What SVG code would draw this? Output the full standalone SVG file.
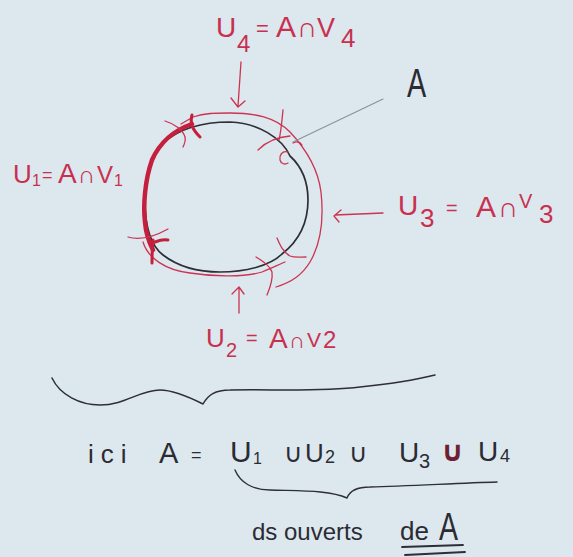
<svg xmlns="http://www.w3.org/2000/svg" width="573" height="557" viewBox="0 0 573 557">
<style>
.bg{fill:#dce7ee}
.red{fill:none;stroke:#cc3350;stroke-width:1.3;stroke-linecap:round;stroke-linejoin:round}
.redT{fill:none;stroke:#c41f3d;stroke-width:3;stroke-linecap:round;stroke-linejoin:round}
.ink{fill:none;stroke:#2e2e36;stroke-width:1.7;stroke-linecap:round;stroke-linejoin:round}
.gray{fill:none;stroke:#8a9199;stroke-width:1.1;stroke-linecap:round}
.tr{fill:#c9304f;font-family:"Liberation Sans","DejaVu Sans",sans-serif}
.tk{fill:#2b2b33;font-family:"Liberation Sans","DejaVu Sans",sans-serif}
</style>
<rect class="bg" x="0" y="0" width="573" height="557"/>

<g id="set-A">
  <path class="ink" d="M290,156 C282,138 258,123 230,122 C205,122 180,128 163,143 C150,158 144,180 145,200 C145,225 150,245 163,255 C180,268 200,272 220,272 C245,272 270,266 282,254 C300,240 308,222 308,200 C308,180 301,166 290,156"/>
</g>

<g id="covers">
  <path class="red" d="M181,124 L193,117 C205,113 215,113 230,113 C255,113 275,117 290,132 C305,148 318,168 321,192 C324,220 320,245 310,262 C302,275 292,282 276,287"/>
  <path class="red" d="M143,242 C148,258 165,270 190,273 C215,277 245,277 262,272 C272,268 280,264 285,262"/>
  <path class="redT" style="stroke-width:4.5" d="M192,124 C175,130 160,142 152,160 C145,180 143,205 145,222 C146,235 149,242 153,250"/>
  <path class="red" d="M165,121 C175,124 183,130 185,137 C186,141 184,145 183,147"/>
  <path class="redT" d="M192,115 C190,122 191,128 200,137"/>
  <path class="red" d="M283,110 C282,120 281,132 279,140"/>
  <path class="red" d="M258,150 C266,142 276,137 290,136"/>
  <path class="red" d="M288,152 C282,150 279,156 280,160 C281,164 285,165 288,163"/>
  <path class="red" d="M293,143 C297,141 300,142 302,145"/>
  <path class="red" d="M128,237 C138,240 150,239 168,229"/>
  <path class="redT" d="M153,240 C152,250 152,257 152,263"/>
  <path class="redT" d="M155,242 C160,240 164,239 168,240"/>
  <path class="red" d="M277,238 C280,245 283,252 290,256 C295,258 300,257 306,257"/>
  <path class="red" d="M256,257 C264,262 270,266 272,272 C273,280 270,288 267,295"/>
</g>

<g id="connectors">
  <path class="red" d="M241,62 L238,106 M231,98 L238,107 L245,101"/>
  <path class="red" d="M383,213 L335,215 M341,210 L334,216 L339,222"/>
  <path class="red" d="M239,313 L239,288 M232,294 L239,287 L244,294"/>
  <path class="gray" d="M383,99 L293,142"/>
</g>

<g id="label-U4">
  <text class="tr"><tspan x="216" y="37" font-size="28">U</tspan><tspan x="237" y="52" font-size="24">4</tspan><tspan x="256" y="36" font-size="22">=</tspan><tspan x="276" y="37" font-size="30">A</tspan><tspan x="297" y="37" font-size="28">∩</tspan><tspan x="317" y="37" font-size="27">V</tspan><tspan x="341" y="47" font-size="26">4</tspan></text>
</g>

<g id="label-U1">
  <text class="tr"><tspan x="13" y="183" font-size="26">U</tspan><tspan x="32" y="186" font-size="16">1</tspan><tspan x="42" y="181" font-size="18">=</tspan><tspan x="58" y="183" font-size="28">A</tspan><tspan x="78" y="183" font-size="24">∩</tspan><tspan x="97" y="183" font-size="24">V</tspan><tspan x="114" y="186" font-size="16">1</tspan></text>
</g>

<g id="label-U3">
  <text class="tr"><tspan x="398" y="215" font-size="28">U</tspan><tspan x="420" y="227" font-size="26">3</tspan><tspan x="446" y="215" font-size="20">=</tspan><tspan x="476" y="217" font-size="30">A</tspan><tspan x="498" y="217" font-size="28">∩</tspan><tspan x="519" y="208" font-size="20">V</tspan><tspan x="539" y="223" font-size="26">3</tspan></text>
</g>

<g id="label-U2">
  <text class="tr"><tspan x="206" y="347" font-size="26">U</tspan><tspan x="226" y="357" font-size="20">2</tspan><tspan x="246" y="345" font-size="20">=</tspan><tspan x="269" y="348" font-size="28">A</tspan><tspan x="289" y="348" font-size="22">∩</tspan><tspan x="307" y="347" font-size="21">V</tspan><tspan x="323" y="348" font-size="24">2</tspan></text>
</g>

<g id="label-A">
  <text class="tk" font-size="40" transform="translate(407,97) scale(0.72,1)">A</text>
</g>

<g id="brace-big">
  <path class="ink" style="stroke-width:1.5" d="M52,378 C60,395 80,405 100,405 C125,405 140,390 160,390 C175,390 195,400 203,404 C208,395 215,390 230,390 C270,389 320,392 360,387 C390,384 415,380 435,375"/>
</g>

<g id="formula">
  <text class="tk" x="88" y="463" font-size="26" letter-spacing="7">ici</text>
  <text class="tk"><tspan x="159" y="463" font-size="29">A</tspan><tspan x="191" y="461" font-size="18">=</tspan><tspan x="230" y="462" font-size="30">U</tspan><tspan x="253" y="464" font-size="16">1</tspan><tspan x="284" y="462" font-size="26">∪</tspan><tspan x="305" y="462" font-size="26">U</tspan><tspan x="325" y="463" font-size="18">2</tspan><tspan x="349" y="462" font-size="26">∪</tspan><tspan x="399" y="462" font-size="28">U</tspan><tspan x="419" y="468" font-size="20">3</tspan><tspan x="441" y="461" font-size="28" fill="#6e1f33" font-weight="bold">∪</tspan><tspan x="478" y="461" font-size="28">U</tspan><tspan x="500" y="462" font-size="18">4</tspan></text>
</g>

<g id="brace-small">
  <path class="ink" style="stroke-width:1.4" d="M235,470 C240,482 252,490 270,490 C300,491 330,490 347,498 C350,490 358,487 370,487 C410,486 460,483 497,482"/>
</g>

<g id="caption">
  <text class="tk" font-size="24"><tspan x="252" y="540">ds ouverts</tspan><tspan x="400" y="540" font-size="26">de</tspan></text>
  <text class="tk" font-size="38" transform="translate(439,540) scale(0.75,1)">A</text>
  <path class="ink" style="stroke-width:1.8" d="M402,547 L463,545 M405,555 L465,552"/>
</g>
</svg>
